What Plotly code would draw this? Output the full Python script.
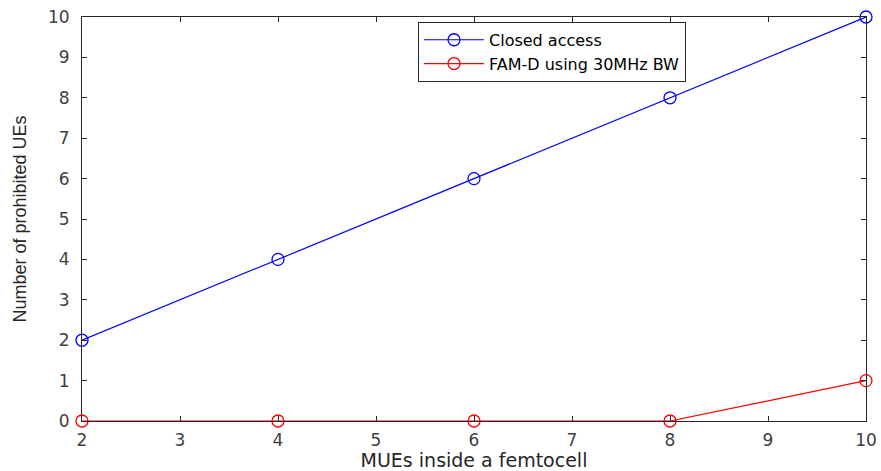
import plotly.graph_objects as go

x_vals = [2, 4, 6, 8, 10]
closed_access = [2, 4, 6, 8, 10]
fam_d = [0, 0, 0, 0, 1]
x_ticks = [2, 3, 4, 5, 6, 7, 8, 9, 10]
y_ticks = list(range(0, 11))

TICK_FONT = dict(family="DejaVu Sans, sans-serif", size=17, color="#404040")

fig = go.Figure()
fig.add_trace(go.Scatter(
    x=x_vals, y=closed_access, mode="lines+markers", name="Closed access",
    line=dict(color="#0000ff", width=1.2),
    marker=dict(symbol="circle-open", size=12, color="#0000ff", line=dict(width=1.3)),
    cliponaxis=False,
))
fig.add_trace(go.Scatter(
    x=x_vals, y=fam_d, mode="lines+markers", name="FAM-D using 30MHz BW",
    line=dict(color="#ff0000", width=1.2),
    marker=dict(symbol="circle-open", size=12, color="#ff0000", line=dict(width=1.3)),
    cliponaxis=False,
))

axis_common = dict(
    showgrid=False, zeroline=False, showline=True, linecolor="#262626", linewidth=1,
    mirror="ticks", ticks="inside", ticklen=5, tickcolor="#262626",
    tickfont=TICK_FONT, automargin=False,
)
fig.update_xaxes(range=[2, 10], tickvals=x_ticks, ticklabelstandoff=4,
                 title=dict(text="MUEs inside a femtocell", standoff=1,
                            font=dict(family="DejaVu Sans, sans-serif", size=19, color="#262626")),
                 **axis_common)
fig.update_yaxes(range=[0, 10], tickvals=y_ticks, ticklabelstandoff=8,
                 title=dict(text="Number of prohibited UEs", standoff=16,
                            font=dict(family="Liberation Sans, Arial, sans-serif", size=18, color="#262626")),
                 **axis_common)

fig.update_layout(
    width=881, height=471,
    margin=dict(l=82, r=15, t=17, b=50),
    paper_bgcolor="white", plot_bgcolor="white",
    legend=dict(x=0.4286, y=0.988, xanchor="left", yanchor="top",
                bgcolor="white", bordercolor="#262626", borderwidth=1,
                font=dict(family="DejaVu Sans, sans-serif", size=16, color="#000000"),
                tracegroupgap=0, itemwidth=60),
    showlegend=True,
)

fig.write_html("out.html", config={"displayModeBar": False},
               post_script="document.body.style.margin='0';")
